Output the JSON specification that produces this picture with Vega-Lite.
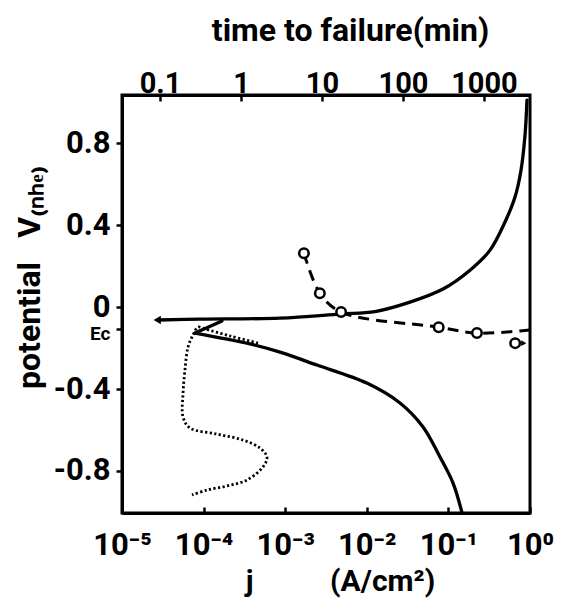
{
  "$schema": "https://vega.github.io/schema/vega-lite/v6.json",
  "autosize": "none",
  "width": 408,
  "height": 418,
  "padding": {"left": 122, "top": 95, "right": 37, "bottom": 94},
  "background": "white",
  "config": {
    "view": {"stroke": "black", "strokeWidth": 3},
    "font": "Roboto",
    "axis": {
      "labelFont": "Roboto",
      "titleFont": "Roboto",
      "labelColor": "black", "titleColor": "black",
      "domainColor": "black", "domainWidth": 3,
      "tickColor": "black", "tickWidth": 2.5,
      "grid": false, "labelOverlap": false, "labelFlush": false, "labelBound": false,
      "labelFontWeight": "bold", "titleFontWeight": "bold"
    }
  },
  "datasets": {
    "curves": [
      {"series": "anodic", "i": 1, "j": 0.0000276, "E": -0.063},
      {"series": "anodic", "i": 2, "j": 0.00009, "E": -0.059},
      {"series": "anodic", "i": 3, "j": 0.00086, "E": -0.054},
      {"series": "anodic", "i": 4, "j": 0.0047, "E": -0.034},
      {"series": "anodic", "i": 5, "j": 0.0126, "E": -0.022},
      {"series": "anodic", "i": 6, "j": 0.0338, "E": 0.024},
      {"series": "anodic", "i": 7, "j": 0.0859, "E": 0.088},
      {"series": "anodic", "i": 8, "j": 0.184, "E": 0.18},
      {"series": "anodic", "i": 9, "j": 0.324, "E": 0.278},
      {"series": "anodic", "i": 10, "j": 0.494, "E": 0.415},
      {"series": "anodic", "i": 11, "j": 0.655, "E": 0.537},
      {"series": "anodic", "i": 12, "j": 0.776, "E": 0.668},
      {"series": "anodic", "i": 13, "j": 0.869, "E": 0.839},
      {"series": "anodic", "i": 14, "j": 0.918, "E": 1.01},
      {"series": "connector", "i": 1, "j": 0.000168, "E": -0.068},
      {"series": "connector", "i": 2, "j": 0.0000786, "E": -0.127},
      {"series": "cathodic", "i": 1, "j": 0.0000786, "E": -0.127},
      {"series": "cathodic", "i": 2, "j": 0.000371, "E": -0.18},
      {"series": "cathodic", "i": 3, "j": 0.000863, "E": -0.22},
      {"series": "cathodic", "i": 4, "j": 0.00245, "E": -0.283},
      {"series": "cathodic", "i": 5, "j": 0.01, "E": -0.371},
      {"series": "cathodic", "i": 6, "j": 0.0255, "E": -0.468},
      {"series": "cathodic", "i": 7, "j": 0.0489, "E": -0.585},
      {"series": "cathodic", "i": 8, "j": 0.0789, "E": -0.732},
      {"series": "cathodic", "i": 9, "j": 0.114, "E": -0.859},
      {"series": "cathodic", "i": 10, "j": 0.147, "E": -1.005}
    ],
    "dotted": [
      {"i": 1, "j": 0.000465, "E": -0.176},
      {"i": 2, "j": 0.000211, "E": -0.141},
      {"i": 3, "j": 0.000104, "E": -0.107},
      {"i": 4, "j": 0.0000853, "E": -0.098},
      {"i": 5, "j": 0.0000741, "E": -0.137},
      {"i": 6, "j": 0.0000644, "E": -0.195},
      {"i": 7, "j": 0.0000591, "E": -0.307},
      {"i": 8, "j": 0.000056, "E": -0.42},
      {"i": 9, "j": 0.000056, "E": -0.537},
      {"i": 10, "j": 0.0000681, "E": -0.59},
      {"i": 11, "j": 0.000146, "E": -0.62},
      {"i": 12, "j": 0.000304, "E": -0.649},
      {"i": 13, "j": 0.000491, "E": -0.688},
      {"i": 14, "j": 0.000598, "E": -0.732},
      {"i": 15, "j": 0.000535, "E": -0.78},
      {"i": 16, "j": 0.00034, "E": -0.844},
      {"i": 17, "j": 0.000194, "E": -0.873},
      {"i": 18, "j": 0.00011, "E": -0.893},
      {"i": 19, "j": 0.0000721, "E": -0.917}
    ],
    "arrowJ": [
      {"j": 0.000027, "E": -0.063}
    ],
    "failure": [
      {"i": 1, "t": 5.98, "E": 0.263},
      {"i": 2, "t": 9.4, "E": 0.068},
      {"i": 3, "t": 17.2, "E": -0.024},
      {"i": 4, "t": 276, "E": -0.098},
      {"i": 5, "t": 819, "E": -0.127},
      {"i": 6, "t": 3650, "E": -0.112}
    ],
    "failurePoints": [
      {"t": 5.98, "E": 0.263},
      {"t": 9.4, "E": 0.068},
      {"t": 17.2, "E": -0.024},
      {"t": 276, "E": -0.098},
      {"t": 819, "E": -0.127},
      {"t": 2427, "E": -0.176}
    ],
    "runout": [
      {"t": 3100, "E": -0.176}
    ]
  },
  "layer": [
    {
      "layer": [
        {
          "data": {"name": "curves"},
          "mark": {"type": "line", "color": "black", "strokeWidth": 3.3, "strokeCap": "round", "strokeJoin": "round", "interpolate": "catmull-rom"},
          "encoding": {
            "x": {"field": "j", "type": "quantitative",
              "scale": {"type": "log", "domain": [0.00001, 1], "nice": false},
              "axis": {"orient": "bottom", "values": [0.00001, 0.0001, 0.001, 0.01, 0.1, 1],
                "labelExpr": "datum.value >= 0.99 ? '10⁰' : datum.value >= 0.099 ? '10⁻¹' : datum.value >= 0.0099 ? '10⁻²' : datum.value >= 0.00099 ? '10⁻³' : datum.value >= 0.000099 ? '10⁻⁴' : '10⁻⁵'",
                "labelFontSize": 31, "labelPadding": 23, "tickSize": -6,
                "title": "j\u2003\u2003\u2002(A/cm²)", "titleFontSize": 30, "titlePadding": 6, "titleX": 218}},
            "y": {"field": "E", "type": "quantitative",
              "scale": {"domain": [-1.005, 1.035], "nice": false, "zero": false},
              "axis": {"values": [-0.8, -0.4, 0, 0.4, 0.8, -0.105],
                "labelExpr": "datum.value < -0.1 && datum.value > -0.11 ? 'Ec' : datum.value == 0 ? '0' : (datum.value < 0 ? '-' : '') + format(abs(datum.value), '.1f')",
                "labelFontSize": {"condition": {"test": "datum.value < -0.1 && datum.value > -0.11", "value": 19}, "value": 31},
                "labelOffset": {"condition": {"test": "datum.value < -0.1 && datum.value > -0.11", "value": 5}, "value": 0},
                "labelPadding": 6, "tickSize": 6,
                "title": "potential \u2002V₍ₙₕₑ₎", "titleFontSize": 32, "titleX": -76, "titleY": 182}},
            "order": {"field": "i", "type": "quantitative"},
            "detail": {"field": "series"}
          }
        },
        {
          "data": {"name": "dotted"},
          "mark": {"type": "line", "color": "black", "strokeWidth": 2.8, "strokeDash": [2.2, 2.4], "strokeCap": "butt", "interpolate": "catmull-rom"},
          "encoding": {
            "x": {"field": "j", "type": "quantitative"},
            "y": {"field": "E", "type": "quantitative"},
            "order": {"field": "i", "type": "quantitative"}
          }
        },
        {
          "data": {"name": "arrowJ"},
          "mark": {"type": "point", "shape": "triangle-left", "filled": true, "color": "black", "size": 70, "opacity": 1},
          "encoding": {
            "x": {"field": "j", "type": "quantitative"},
            "y": {"field": "E", "type": "quantitative"}
          }
        }
      ]
    },
    {
      "layer": [
        {
          "data": {"name": "failure"},
          "mark": {"type": "line", "color": "black", "strokeWidth": 3, "strokeDash": [11, 7], "interpolate": "catmull-rom"},
          "encoding": {
            "x": {"field": "t", "type": "quantitative",
              "scale": {"type": "log", "domain": [0.0339, 3700], "nice": false},
              "axis": {"orient": "top", "values": [0.1, 1, 10, 100, 1000], "format": "~g",
                "labelFontSize": 29, "labelPadding": 3, "tickSize": -6,
                "title": "time to failure(min)", "titleFontSize": 32, "titlePadding": 22, "titleX": 228}},
            "y": {"field": "E", "type": "quantitative"},
            "order": {"field": "i", "type": "quantitative"}
          }
        },
        {
          "data": {"name": "failurePoints"},
          "mark": {"type": "point", "shape": "circle", "filled": true, "fill": "white", "stroke": "black", "strokeWidth": 2.5, "size": 90, "opacity": 1},
          "encoding": {
            "x": {"field": "t", "type": "quantitative"},
            "y": {"field": "E", "type": "quantitative"}
          }
        },
        {
          "data": {"name": "runout"},
          "mark": {"type": "point", "shape": "triangle-right", "filled": true, "color": "black", "size": 35, "opacity": 1},
          "encoding": {
            "x": {"field": "t", "type": "quantitative"},
            "y": {"field": "E", "type": "quantitative"}
          }
        }
      ]
    }
  ],
  "resolve": {"scale": {"x": "independent"}, "axis": {"x": "independent"}}
}
